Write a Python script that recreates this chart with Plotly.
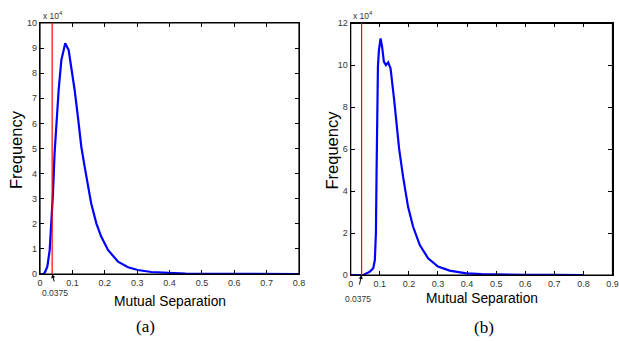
import plotly.graph_objects as go

# Panel (a): mutual separation vs frequency (x 10^4)
sep_a = [0, 0.01, 0.0145, 0.0226, 0.030, 0.035, 0.040, 0.045, 0.0525, 0.0576, 0.066,
         0.078, 0.0885, 0.0967, 0.107, 0.117, 0.1276, 0.138, 0.148, 0.158, 0.174,
         0.189, 0.21, 0.241, 0.272, 0.302, 0.344, 0.40, 0.45, 0.55, 0.8]
freq_a = [0, 0, 0.05, 0.29, 0.96, 2.02, 3.2, 4.8, 6.4, 7.33, 8.53,
          9.19, 8.92, 8.26, 7.33, 6.27, 5.07, 4.27, 3.48, 2.82, 2.02,
          1.49, 0.96, 0.49, 0.27, 0.16, 0.08, 0.03, 0.012, 0.003, 0]

# Panel (b)
sep_b = [0, 0.043, 0.066, 0.0775, 0.083, 0.0867, 0.089, 0.0912, 0.0936, 0.097, 0.1028,
         0.108, 0.114, 0.121, 0.129, 0.137, 0.1426, 0.1495, 0.1576, 0.1666, 0.180,
         0.197, 0.2145, 0.2375, 0.266, 0.300, 0.340, 0.3975, 0.45, 0.5, 0.6, 0.7, 0.8]
freq_b = [0, 0, 0.16, 0.32, 0.71, 2.0, 5.0, 7.86, 9.93, 10.72, 11.28,
          10.88, 10.17, 10.01, 10.14, 9.85, 9.29, 8.34, 7.23, 6.0, 4.69,
          3.26, 2.3, 1.43, 0.80, 0.40, 0.21, 0.08, 0.04, 0.02, 0.005, 0.002, 0]

threshold = 0.0375
xticks_a = [0, 0.1, 0.2, 0.3, 0.4, 0.5, 0.6, 0.7, 0.8]
yticks_a = list(range(0, 11))
xticks_b = [0, 0.1, 0.2, 0.3, 0.4, 0.5, 0.6, 0.7, 0.8, 0.9]
yticks_b = [0, 2, 4, 6, 8, 10, 12]

W, H = 619, 341

def fx(X):
    return X / W

def fy(Y):
    return 1 - Y / H

fig = go.Figure()
fig.add_trace(go.Scatter(x=sep_a, y=freq_a, mode="lines", line=dict(color="#0000ff", width=2.2),
                         xaxis="x", yaxis="y", showlegend=False))
fig.add_trace(go.Scatter(x=sep_b, y=freq_b, mode="lines", line=dict(color="#0000ff", width=2.2),
                         xaxis="x2", yaxis="y2", showlegend=False))

tickfont = dict(family="Liberation Sans, Arial", size=9, color="#333")
common = dict(showgrid=False, zeroline=False, showline=True, linecolor="black", linewidth=1.2,
              mirror="ticks", ticks="inside", ticklen=4, tickcolor="black", tickfont=tickfont,
              automargin=False, ticklabeloverflow="allow")

fig.update_layout(
    template="none",
    width=W, height=H, margin=dict(l=0, r=0, t=0, b=0, autoexpand=False),
    paper_bgcolor="white", plot_bgcolor="white",
    xaxis=dict(domain=[fx(40), fx(299)], range=[0, 0.8], tickvals=xticks_a,
               ticktext=[str(v) if v else "0" for v in xticks_a], anchor="y", **common),
    yaxis=dict(domain=[fy(274), fy(23)], range=[0, 10], tickvals=yticks_a,
               anchor="x", **common),
    xaxis2=dict(domain=[fx(350.7), fx(612.5)], range=[0, 0.9], tickvals=xticks_b,
                ticktext=[str(v) if v else "0" for v in xticks_b], anchor="y2", **common),
    yaxis2=dict(domain=[fy(275), fy(23.3)], range=[0, 12], tickvals=yticks_b,
                anchor="x2", **common),
)

# plot frames
for xr, yr in (("x", "y"), ("x2", "y2")):
    fig.add_shape(type="rect", xref=f"{xr} domain", yref=f"{yr} domain", x0=0, x1=1, y0=0, y1=1,
                  line=dict(color="black", width=1.2), layer="above")

# red threshold lines
fig.add_shape(type="line", xref="x", yref="y", x0=threshold, x1=threshold, y0=0, y1=10,
              line=dict(color="red", width=1.2))
fig.add_shape(type="line", xref="x2", yref="y2", x0=threshold, x1=threshold, y0=0, y1=12,
              line=dict(color="red", width=1.2))

def px(X, Y, xa="center"):
    return dict(x=fx(X), y=fy(Y), xref="paper", yref="paper", xanchor=xa, yanchor="middle")

freqfont = dict(family="Liberation Sans, Arial", size=16.5, color="black")
labfont = dict(family="Liberation Sans, Arial", size=13.8, color="black")
small = dict(family="Liberation Sans, Arial", size=8.5, color="#333")
capfont = dict(family="Liberation Serif, Times New Roman", size=17, color="black")

anns = [
    dict(text="Frequency", textangle=-90, font=freqfont, showarrow=False, **px(16, 150)),
    dict(text="Frequency", textangle=-90, font=freqfont, showarrow=False, **px(331.5, 150)),
    dict(text="Mutual Separation", font=labfont, showarrow=False, **px(169.5, 301)),
    dict(text="Mutual Separation", font=labfont, showarrow=False, **px(482, 298)),
    dict(text="(a)", font=capfont, showarrow=False, **px(145, 326)),
    dict(text="(b)", font=capfont, showarrow=False, **px(484, 327)),
    dict(text="x 10<sup>4</sup>", font=small, showarrow=False, **px(41, 16, "left")),
    dict(text="x 10<sup>4</sup>", font=small, showarrow=False, **px(351, 16, "left")),
    dict(text="0.0375", font=small, showarrow=False, **px(54.7, 292.5)),
    dict(text="0.0375", font=small, showarrow=False, **px(357.8, 299)),
]
for a in anns:
    fig.add_annotation(**a)

fig.add_annotation(x=threshold, y=0, xref="x", yref="y", text="", showarrow=True,
                   ax=2.5, ay=9, arrowhead=2, arrowsize=0.8, arrowwidth=1, arrowcolor="black")
fig.add_annotation(x=threshold, y=0, xref="x2", yref="y2", text="", showarrow=True,
                   ax=-2.5, ay=11, arrowhead=2, arrowsize=0.8, arrowwidth=1, arrowcolor="black")

# remove the default 8px page margin so the 619x341 figure fills the window exactly
fig.write_html("out.html",
               config=dict(displayModeBar=False),
               post_script="document.body.style.margin='0px';document.body.style.overflow='hidden';")
